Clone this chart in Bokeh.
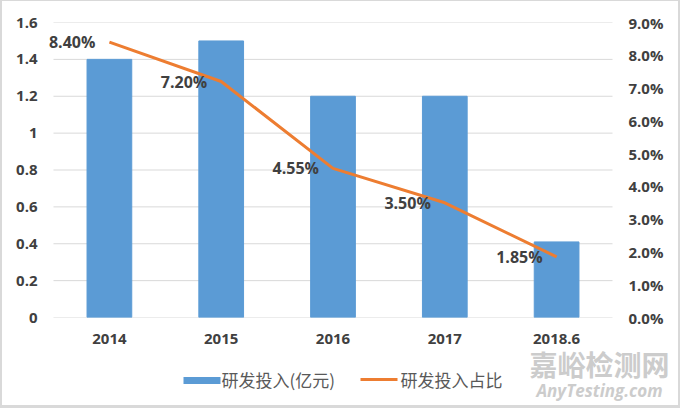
from bokeh.plotting import figure
from bokeh.layouts import column
from bokeh.models import (FactorRange, Range1d, LinearAxis, FixedTicker, ColumnDataSource,
                          Label, CustomJSTickFormatter)
from bokeh.core.properties import value
from bokeh.embed import file_html
from bokeh.resources import INLINE

categories = ["2014", "2015", "2016", "2017", "2018.6"]
rd_invest = [1.4, 1.5, 1.2, 1.2, 0.41]          # 研发投入(亿元)
rd_ratio = [8.40, 7.20, 4.55, 3.50, 1.85]       # 研发投入占比 (%)
ratio_labels = ["8.40%", "7.20%", "4.55%", "3.50%", "1.85%"]
left_ticks = [0, 0.2, 0.4, 0.6, 0.8, 1.0, 1.2, 1.4, 1.6]
right_ticks = [0, 1, 2, 3, 4, 5, 6, 7, 8, 9]
legend_names = ["研发投入(亿元)", "研发投入占比"]
watermark = ["嘉峪检测网", "AnyTesting.com"]

BAR = "#5B9BD5"
LINE = "#ED7D31"
TXT = "#404040"
GRID = "#d9d9d9"

src = ColumnDataSource(dict(cat=categories, inv=rd_invest, ratio=rd_ratio))
n = len(categories)

# ---------------- main chart ----------------
# the frame is a little wider than the category span so that the data labels are not clipped
p = figure(x_range=FactorRange(*categories, range_padding=0.0465, range_padding_units="percent"),
           y_range=Range1d(0, 1.6),
           width=676, height=354, output_backend="svg", toolbar_location=None,
           min_border_left=38, min_border_right=53, min_border_top=21, min_border_bottom=38)
p.outline_line_color = None
p.extra_y_ranges = {"pct": Range1d(0, 9)}

# horizontal gridlines spanning the category area only
p.segment(x0=[0] * len(left_ticks), x1=[n] * len(left_ticks), y0=left_ticks, y1=left_ticks,
          line_color=GRID, line_width=1)
p.vbar(x="cat", top="inv", width=0.4, source=src, color=BAR)
p.line(x="cat", y="ratio", source=src, y_range_name="pct", line_color=LINE, line_width=3)

for i, (v, t) in enumerate(zip(rd_ratio, ratio_labels)):
    p.add_layout(Label(x=i + 0.5, y=v, y_range_name="pct", text=t, x_offset=-14,
                       text_align="right", text_baseline="middle", text_font="Open Sans",
                       text_font_size="16px", text_font_style="bold", text_color=TXT))

p.grid.visible = False

def style_axis(ax):
    ax.axis_line_color = None
    ax.major_tick_line_color = None
    ax.minor_tick_line_color = None
    ax.major_tick_out = 0
    ax.major_tick_in = 0
    ax.minor_tick_out = 0
    ax.minor_tick_in = 0
    ax.major_label_text_font = "Open Sans"
    ax.major_label_text_font_size = "15px"
    ax.major_label_text_font_style = "bold"
    ax.major_label_text_color = TXT

xa = p.xaxis[0]
style_axis(xa)
xa.major_label_standoff = 16

ya = p.yaxis[0]
style_axis(ya)
ya.ticker = FixedTicker(ticks=left_ticks)
ya.formatter = CustomJSTickFormatter(code="return tick.toFixed(1).replace(/\\.0$/, '');")
ya.major_label_standoff = 3

ra = LinearAxis(y_range_name="pct", ticker=FixedTicker(ticks=right_ticks),
                formatter=CustomJSTickFormatter(code="return tick.toFixed(1) + '%';"))
style_axis(ra)
ra.major_label_standoff = 3
p.add_layout(ra, "right")

# ---------------- legend strip (pixel-like coordinates, y downward) ----------------
# transparent strip that overlaps the bottom margin of the chart so the watermark is not clipped
q = figure(x_range=Range1d(0, 676), y_range=Range1d(70, 0), width=676, height=70,
           output_backend="svg", toolbar_location=None,
           min_border_left=0, min_border_right=0, min_border_top=0, min_border_bottom=0)
q.margin = (-20, 0, 0, 0)
q.frame_align = False
q.axis.visible = False
q.grid.visible = False
q.outline_line_color = None
q.background_fill_alpha = 0
q.border_fill_alpha = 0

q.quad(left=[181], right=[218], top=[41.5], bottom=[48.5], fill_color=BAR, line_color=None)
q.line(x=[358, 395], y=[44, 44], line_color=LINE, line_width=3)
q.text(x=[219, 398], y=[44, 44], text=legend_names, text_align="left",
       text_baseline="middle", text_font=value("Noto Sans CJK SC"),
       text_font_size="17px", text_color="#595959")
q.text(x=[597], y=[28], text=[watermark[0]], text_align="center", text_baseline="middle",
       text_font=value("Noto Sans CJK SC"), text_font_size="28px", text_font_style="bold",
       text_color="#cccccc")
q.text(x=[597], y=[55], text=[watermark[1]], text_align="center", text_baseline="middle",
       text_font=value("Open Sans"), text_font_size="17px", text_font_style="bold italic",
       text_color="#cccccc")

layout = column(p, q, spacing=0,
                styles={"border-style": "solid", "border-color": "#d9d9d9",
                        "border-width": "1px 2px 3px 2px"})

open("out.html", "w").write(file_html(layout, INLINE))
